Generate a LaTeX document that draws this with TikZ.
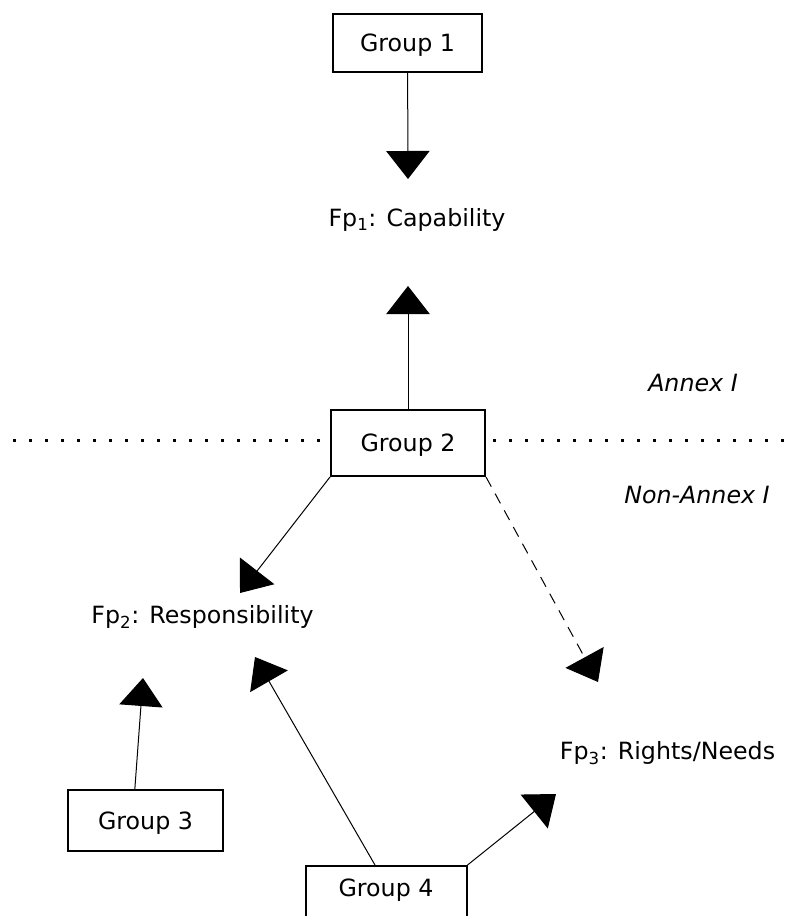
\documentclass[tikz,border=0pt]{standalone}
\usepackage{fontspec}
\setmainfont{DejaVu Sans}
\usetikzlibrary{arrows.meta}

\begin{document}
\begin{tikzpicture}[x=0.75pt,y=-0.75pt,
    font=\fontsize{17.8}{21}\selectfont,
    grp/.style={draw,line width=1.5pt,fill=white,inner sep=0pt,text height=13pt,text depth=0pt},
    lbl/.style={inner sep=0pt,text height=13pt,text depth=0pt},
    link/.style={line width=0.75pt,-{Triangle[length=21pt,width=32.5pt]}}]
    \useasboundingbox (0,0) rectangle (793,916);
    % border between the two groups of countries
    \draw[line width=2.25pt,dash pattern=on 2.25pt off 9.75pt] (13,440) -- (793,440);
    \node[grp,minimum width=111.75pt,minimum height=43.5pt] (G1) at (407.5,43) {Group 1};
    \node[grp,minimum width=115.5pt,minimum height=49.5pt] (G2) at (408,443) {Group 2};
    \node[grp,minimum width=116.25pt,minimum height=45.75pt] (G3) at (145.5,820.5) {Group 3};
    \node[grp,minimum width=120.75pt,text height=23pt,text depth=22pt,anchor=base] (G4) at (386,896.7) {Group 4};
    \node[lbl] (F1) at (417,218) {Fp\textsubscript{1}: Capability};
    \node[lbl] (F2) at (202.5,615) {Fp\textsubscript{2}: Responsibility};
    \node[lbl] (F3) at (667.5,751) {Fp\textsubscript{3}: Rights/Needs};
    \node[lbl] (A1) at (693,383) {\itshape Annex I};
    \node[lbl] (A2) at (697,495) {\itshape Non-Annex I};
    % arrow ends
    \coordinate (T1) at (408,179);
    \coordinate (T2) at (408,286);
    \coordinate (T3) at (240,593);
    \coordinate (T4) at (598,682);
    \coordinate (T5) at (143,678);
    \coordinate (T6) at (255,657);
    \coordinate (T7) at (556,794);
    \draw[link] (G1) -- (T1);
    \draw[link] (G2) -- (T2);
    \draw[link] (G2.south west) -- (T3);
    \draw[link,dash pattern=on 8.25pt off 6pt] (G2.south east) -- (T4);
    \draw[link] ([xshift=-8pt]G3.north) -- (T5);
    \draw[link] ([xshift=-8.25pt]G4.north) -- (T6);
    \draw[link] (G4.north east) -- (T7);
\end{tikzpicture}
\end{document}
